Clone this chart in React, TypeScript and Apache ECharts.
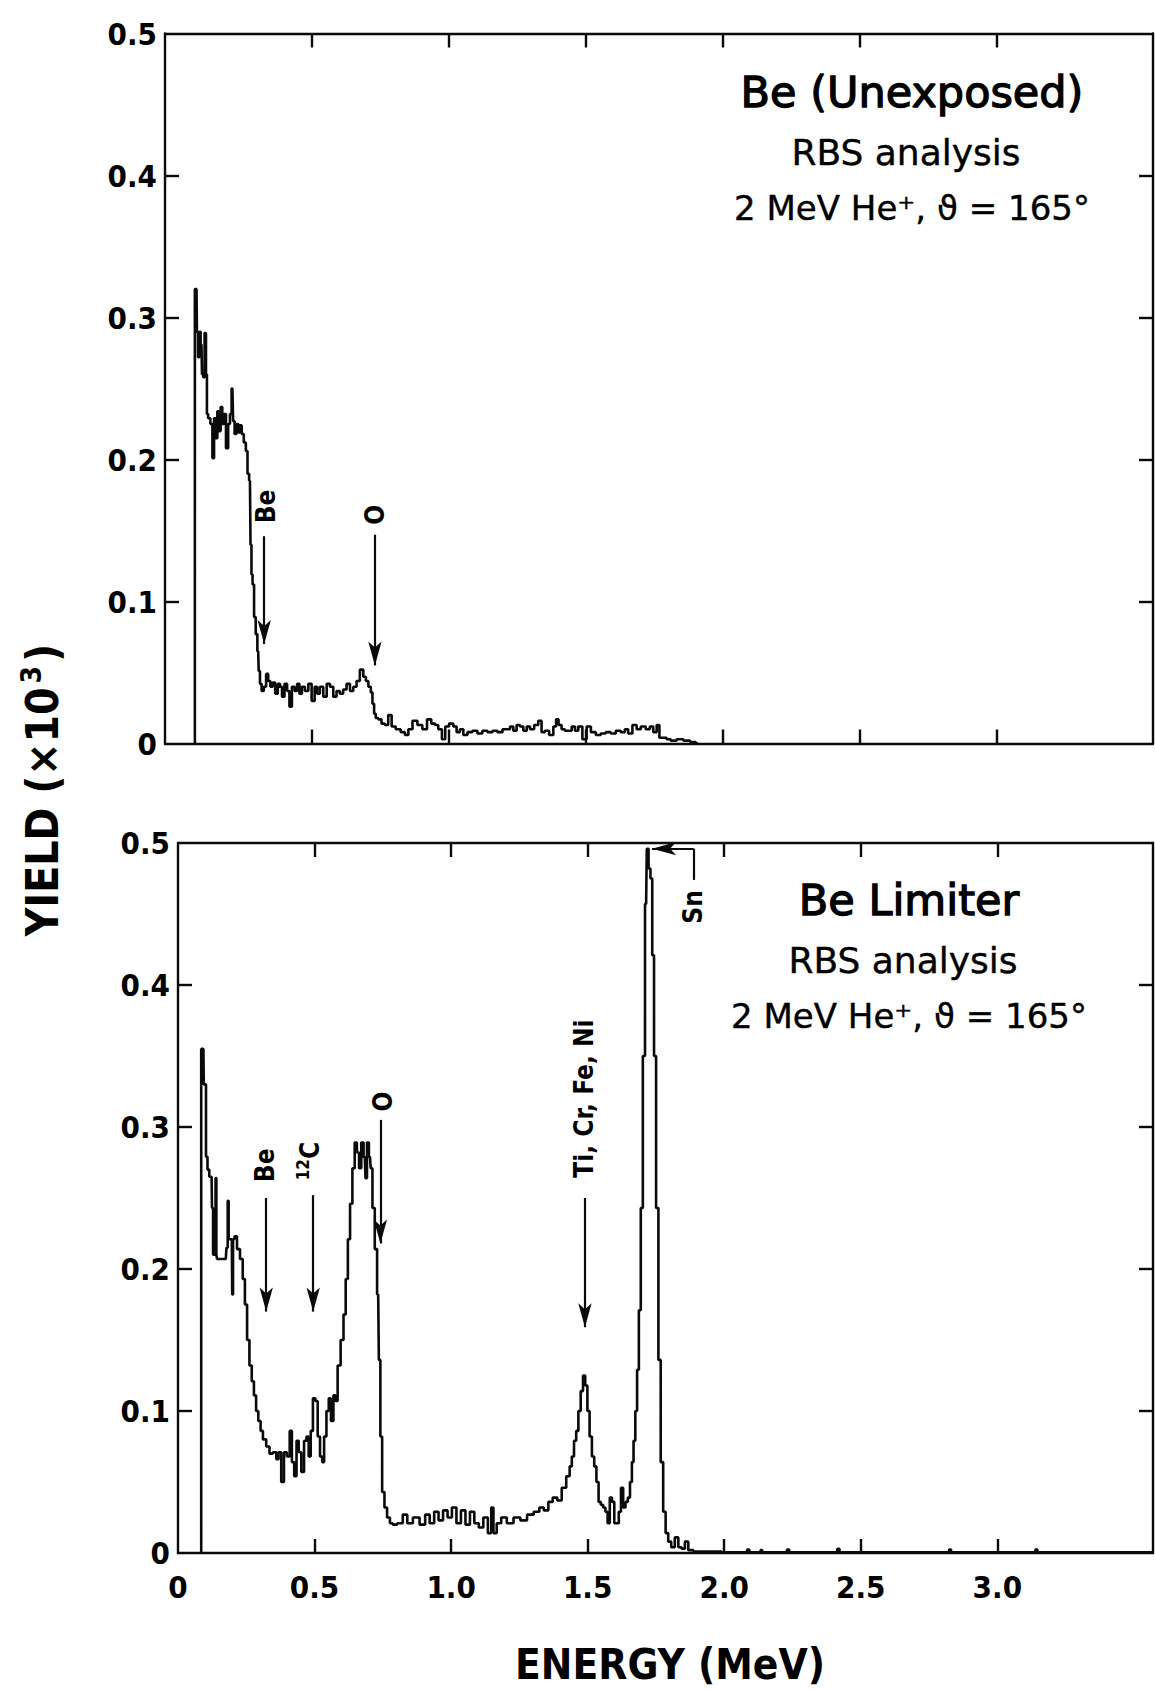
import { useEffect, useRef } from 'react';
import * as echarts from 'echarts';

// ---- Upper panel: unexposed Be, RBS spectrum (energy in MeV, yield ×10³) ----
const unexposedEnergy = [
  0.074, 0.074, 0.080, 0.083, 0.088, 0.092, 0.098, 0.102, 0.107, 0.112, 0.117, 0.119, 0.126, 0.135,
  0.141, 0.147, 0.153, 0.159, 0.165, 0.171, 0.177, 0.183, 0.192, 0.199, 0.205, 0.211, 0.216, 0.222,
  0.229, 0.236, 0.242, 0.248, 0.257, 0.263, 0.269, 0.275, 0.279, 0.282, 0.287, 0.293, 0.299, 0.305,
  0.309, 0.314, 0.321, 0.330, 0.338, 0.345, 0.354, 0.362, 0.372, 0.381, 0.388, 0.396, 0.406, 0.415,
  0.423, 0.433, 0.443, 0.451, 0.460, 0.469, 0.482, 0.494, 0.506, 0.516, 0.524, 0.536, 0.549, 0.561,
  0.573, 0.585, 0.597, 0.609, 0.621, 0.634, 0.646, 0.658, 0.670, 0.682, 0.695, 0.701, 0.713, 0.719,
  0.725, 0.731, 0.737, 0.749, 0.761, 0.773, 0.786, 0.798, 0.816, 0.834, 0.847, 0.859, 0.877, 0.895,
  0.913, 0.929, 0.944, 0.956, 0.968, 0.983, 0.992, 1.011, 1.023, 1.035, 1.047, 1.060, 1.077, 1.096,
  1.114, 1.132, 1.151, 1.169, 1.187, 1.206, 1.218, 1.230, 1.242, 1.254, 1.266, 1.279, 1.291, 1.303,
  1.321, 1.333, 1.345, 1.357, 1.376, 1.388, 1.396, 1.406, 1.418, 1.430, 1.443, 1.455, 1.467, 1.479,
  1.497, 1.510, 1.528, 1.546, 1.564, 1.582, 1.601, 1.619, 1.637, 1.649, 1.661, 1.680, 1.692, 1.710,
  1.728, 1.740, 1.753, 1.765, 1.773, 1.789, 1.801, 1.820, 1.844, 1.869, 1.893, 1.910,
];
const unexposedYield = [
  0, 0.320, 0.320, 0.290, 0.272, 0.290, 0.281, 0.260, 0.258, 0.289, 0.260, 0.232, 0.229, 0.225,
  0.201, 0.229, 0.215, 0.234, 0.220, 0.237, 0.225, 0.232, 0.208, 0.225, 0.232, 0.250, 0.227, 0.218,
  0.225, 0.219, 0.224, 0.218, 0.212, 0.206, 0.190, 0.185, 0.140, 0.119, 0.112, 0.089, 0.077, 0.065,
  0.051, 0.042, 0.037, 0.040, 0.049, 0.044, 0.040, 0.043, 0.035, 0.042, 0.040, 0.033, 0.042, 0.037,
  0.026, 0.040, 0.037, 0.042, 0.035, 0.040, 0.037, 0.042, 0.030, 0.040, 0.035, 0.040, 0.033, 0.042,
  0.040, 0.033, 0.037, 0.035, 0.038, 0.042, 0.037, 0.040, 0.044, 0.052, 0.047, 0.044, 0.040, 0.036,
  0.028, 0.021, 0.018, 0.017, 0.014, 0.013, 0.020, 0.012, 0.010, 0.008, 0.006, 0.010, 0.016, 0.013,
  0.010, 0.017, 0.014, 0.013, 0.010, 0.003, 0.012, 0.014, 0.012, 0.008, 0.010, 0.006, 0.008, 0.009,
  0.007, 0.009, 0.008, 0.009, 0.008, 0.010, 0.010, 0.012, 0.009, 0.013, 0.012, 0.009, 0.012, 0.010,
  0.013, 0.016, 0.008, 0.009, 0.006, 0.012, 0.017, 0.013, 0.010, 0.009, 0.009, 0.012, 0.009, 0.012,
  0.003, 0.012, 0.008, 0.006, 0.007, 0.008, 0.007, 0.009, 0.008, 0.010, 0.007, 0.013, 0.010, 0.012,
  0.010, 0.012, 0.008, 0.013, 0.004, 0.004, 0.003, 0.002, 0.003, 0.002, 0.001, 0,
];

// ---- Lower panel: Be limiter, RBS spectrum ----
const limiterEnergy = [
  0.085, 0.085, 0.093, 0.096, 0.100, 0.105, 0.111, 0.118, 0.123, 0.126, 0.131, 0.136, 0.139, 0.142,
  0.144, 0.159, 0.175, 0.180, 0.184, 0.187, 0.197, 0.200, 0.203, 0.211, 0.221, 0.233, 0.241, 0.249,
  0.257, 0.266, 0.274, 0.282, 0.290, 0.298, 0.307, 0.315, 0.331, 0.339, 0.356, 0.364, 0.372, 0.384,
  0.392, 0.405, 0.413, 0.421, 0.430, 0.438, 0.446, 0.457, 0.466, 0.475, 0.482, 0.490, 0.498, 0.508,
  0.515, 0.525, 0.531, 0.539, 0.548, 0.556, 0.564, 0.574, 0.580, 0.589, 0.602, 0.610, 0.618, 0.626,
  0.634, 0.643, 0.651, 0.659, 0.667, 0.675, 0.684, 0.689, 0.695, 0.703, 0.708, 0.716, 0.725, 0.733,
  0.738, 0.744, 0.751, 0.761, 0.770, 0.782, 0.790, 0.815, 0.831, 0.848, 0.872, 0.897, 0.913, 0.930,
  0.946, 0.962, 0.979, 0.995, 1.011, 1.028, 1.044, 1.061, 1.077, 1.093, 1.110, 1.126, 1.143, 1.151,
  1.159, 1.175, 1.192, 1.216, 1.241, 1.266, 1.290, 1.315, 1.331, 1.348, 1.364, 1.380, 1.397, 1.413,
  1.430, 1.438, 1.446, 1.454, 1.462, 1.470, 1.479, 1.487, 1.495, 1.503, 1.511, 1.520, 1.528, 1.536,
  1.544, 1.552, 1.561, 1.569, 1.577, 1.585, 1.593, 1.602, 1.610, 1.618, 1.626, 1.634, 1.643, 1.651,
  1.659, 1.665, 1.671, 1.678, 1.684, 1.691, 1.698, 1.706, 1.714, 1.719, 1.727, 1.733, 1.740, 1.746,
  1.755, 1.763, 1.772, 1.781, 1.790, 1.800, 1.812, 1.826, 1.838, 1.850, 1.862, 1.875, 1.900, 2.080,
  2.088, 2.096, 2.130, 2.136, 2.142, 2.226, 2.234, 2.242, 2.410, 2.418, 2.426, 2.820, 2.827, 2.834,
  3.136, 3.143, 3.150, 3.570,
];
const limiterYield = [
  0, 0.355, 0.355, 0.330, 0.330, 0.279, 0.270, 0.265, 0.265, 0.243, 0.210, 0.210, 0.264, 0.210,
  0.207, 0.207, 0.207, 0.215, 0.248, 0.221, 0.221, 0.182, 0.221, 0.223, 0.214, 0.207, 0.193, 0.175,
  0.150, 0.132, 0.121, 0.111, 0.100, 0.093, 0.086, 0.080, 0.075, 0.070, 0.071, 0.066, 0.071, 0.050,
  0.071, 0.068, 0.086, 0.064, 0.054, 0.079, 0.071, 0.057, 0.079, 0.082, 0.068, 0.086, 0.109, 0.107,
  0.082, 0.068, 0.064, 0.082, 0.100, 0.109, 0.093, 0.111, 0.107, 0.132, 0.150, 0.168, 0.193, 0.221,
  0.246, 0.271, 0.289, 0.282, 0.271, 0.289, 0.279, 0.264, 0.289, 0.279, 0.271, 0.243, 0.214, 0.182,
  0.136, 0.082, 0.043, 0.032, 0.025, 0.021, 0.020, 0.021, 0.027, 0.021, 0.025, 0.020, 0.027, 0.021,
  0.029, 0.023, 0.030, 0.025, 0.032, 0.021, 0.030, 0.020, 0.029, 0.021, 0.018, 0.025, 0.014, 0.032,
  0.014, 0.021, 0.025, 0.021, 0.025, 0.023, 0.027, 0.029, 0.032, 0.030, 0.036, 0.039, 0.037, 0.046,
  0.054, 0.061, 0.068, 0.079, 0.086, 0.100, 0.114, 0.125, 0.118, 0.100, 0.082, 0.068, 0.061, 0.050,
  0.036, 0.034, 0.032, 0.029, 0.021, 0.039, 0.036, 0.021, 0.021, 0.029, 0.046, 0.032, 0.036, 0.039,
  0.050, 0.064, 0.079, 0.100, 0.129, 0.171, 0.243, 0.350, 0.457, 0.496, 0.482, 0.475, 0.421, 0.350,
  0.243, 0.136, 0.064, 0.029, 0.014, 0.008, 0.004, 0.011, 0.004, 0.003, 0.008, 0.002, 0.001, 0.0005,
  0.0025, 0.0005, 0.0005, 0.002, 0.0005, 0.0005, 0.0025, 0.0005, 0.0005, 0.003, 0.0005, 0.0005, 0.0025, 0.0005,
  0.0005, 0.0025, 0.0005, 0.0005,
];

// ---- Axis ticks ----
const yieldTicks = [0.1, 0.2, 0.3, 0.4];
const energyTicks = [0.5, 1.0, 1.5, 2.0, 2.5, 3.0];
const energyLabels = [0, 0.5, 1.0, 1.5, 2.0, 2.5, 3.0];

// ---- Element markers (arrow from -> to at a given energy) ----
const unexposedMarkerText = ['Be', 'O'];
const unexposedMarkerEnergy = [0.327, 0.731];
const unexposedArrowFrom = [0.146, 0.147];
const unexposedArrowTo = [0.07, 0.055];
const unexposedLabelEnergy = [0.332, 0.733];
const unexposedLabelYield = [0.167, 0.161];

const limiterMarkerText = ['Be', '{s|12}{b|C}', 'O', 'Ti, Cr, Fe, Ni'];
const limiterMarkerEnergy = [0.323, 0.495, 0.741, 1.49];
const limiterArrowFrom = [0.25, 0.252, 0.305, 0.25];
const limiterArrowTo = [0.17, 0.17, 0.218, 0.159];
const limiterLabelEnergy = [0.318, 0.482, 0.749, 1.487];
const limiterLabelYield = [0.273, 0.276, 0.318, 0.32];

// Sn surface edge bracket: vertical stem then arrow pointing to lower energy
const snStemEnergy = 1.888;
const snArrowEnergy = 1.736;
const snStemYield = [0.474, 0.496];
const snLabelPos = [1.887, 0.455];

const LINE = '#0a0a0a';
const NUM_FONT = '"DejaVu Sans Condensed", "DejaVu Sans", sans-serif';
const TEXT_FONT = '"DejaVu Sans", sans-serif';

const zip = (xs: number[], ys: number[]) => xs.map((x, i) => [x, ys[i]]);

function arrowPairs(energy: number[], from: number[], to: number[]) {
  return energy.map((e, i) => [{ coord: [e, from[i]] }, { coord: [e, to[i]] }]);
}

function labelPoints(text: string[], energy: number[], yld: number[]) {
  return text.map((t, i) => ({ value: [energy[i], yld[i]], label: { formatter: t } }));
}

const markerLabelStyle = {
  show: true,
  position: 'inside',
  rotate: 90,
  color: '#000',
  textBorderWidth: 0,
  opacity: 1,
  fontFamily: NUM_FONT,
  fontWeight: 'bold',
  fontSize: 26,
  align: 'center',
  verticalAlign: 'middle',
  rich: {
    s: { fontFamily: NUM_FONT, fontWeight: 'bold', fontSize: 17, lineHeight: 30, verticalAlign: 'top', color: '#000' },
    b: { fontFamily: NUM_FONT, fontWeight: 'bold', fontSize: 26, lineHeight: 30, color: '#000' },
  },
};

function frameAxes(gridIndex: number, min: number, max: number, withLabels: boolean) {
  const axisLine = { show: true, onZero: false, lineStyle: { color: LINE, width: 2.4 } };
  const tick = { show: true, inside: true, length: 14, lineStyle: { color: LINE, width: 2.4 } };
  const x = [
    {
      type: 'value', gridIndex, min, max, position: 'bottom',
      axisLine, splitLine: { show: false },
      axisTick: { ...tick, customValues: energyTicks },
      axisLabel: withLabels
        ? {
            show: true, customValues: energyLabels, margin: 18, color: '#000',
            fontFamily: NUM_FONT, fontWeight: 'bold', fontSize: 31,
            formatter: (v: number) => (v === 0 ? '0' : v.toFixed(1)),
          }
        : { show: false },
    },
    {
      type: 'value', gridIndex, min, max, position: 'top',
      axisLine, splitLine: { show: false },
      axisTick: { ...tick, customValues: energyTicks },
      axisLabel: { show: false },
    },
  ];
  const y = [
    {
      type: 'value', gridIndex, min: 0, max: 0.5, interval: 0.1, position: 'left',
      axisLine, splitLine: { show: false },
      axisTick: { ...tick, customValues: yieldTicks },
      axisLabel: {
        show: true, margin: 8, color: '#000',
        fontFamily: NUM_FONT, fontWeight: 'bold', fontSize: 31,
        formatter: (v: number) => (v === 0 ? '0' : v.toFixed(1)),
      },
    },
    {
      type: 'value', gridIndex, min: 0, max: 0.5, interval: 0.1, position: 'right',
      axisLine, splitLine: { show: false },
      axisTick: { ...tick, customValues: yieldTicks },
      axisLabel: { show: false },
    },
  ];
  return { x, y };
}

function panelText(cx: number, cy: number, title: string) {
  const base = { fill: '#000', align: 'center', verticalAlign: 'middle' };
  return [
    {
      type: 'text', x: cx, y: cy, silent: true,
      style: { ...base, text: title, fontFamily: TEXT_FONT, fontSize: 43, stroke: '#000', lineWidth: 1.3 },
    },
    {
      type: 'text', x: cx - 6, y: cy + 60, silent: true,
      style: { ...base, text: 'RBS analysis', fontFamily: TEXT_FONT, fontSize: 36, stroke: '#000', lineWidth: 0.4 },
    },
    {
      type: 'text', x: cx, y: cy + 116, silent: true,
      style: { ...base, text: '2 MeV He⁺, ϑ = 165°', fontFamily: TEXT_FONT, fontSize: 34, stroke: '#000', lineWidth: 0.4 },
    },
  ];
}

export default function App() {
  const ref = useRef<HTMLDivElement>(null);

  useEffect(() => {
    if (!ref.current) return;
    const chart = echarts.init(ref.current, undefined, { renderer: 'svg' });

    const top = frameAxes(0, -0.035, 3.57, false);
    const bottom = frameAxes(1, 0, 3.57, true);

    const markLineBase = {
      silent: true,
      symbol: ['none', 'arrow'],
      symbolSize: [10, 24],
      label: { show: false },
      lineStyle: { color: LINE, width: 2.2, type: 'solid' },
      emphasis: { disabled: true },
      animation: false,
    };

    const labelSeries = {
      type: 'scatter',
      symbolSize: 0,
      silent: true,
      itemStyle: { color: '#000', opacity: 1 },
      label: markerLabelStyle,
      emphasis: { disabled: true },
    };

    chart.setOption({
      animation: false,
      backgroundColor: '#fff',
      grid: [
        { left: 165, top: 33.5, width: 988, height: 710 },
        { left: 178, top: 843, width: 975, height: 710 },
      ],
      xAxis: [...top.x, ...bottom.x],
      yAxis: [...top.y, ...bottom.y],
      series: [
        {
          name: 'Be (Unexposed)',
          type: 'line',
          xAxisIndex: 0,
          yAxisIndex: 0,
          data: zip(unexposedEnergy, unexposedYield),
          step: 'middle',
          showSymbol: false,
          silent: true,
          lineStyle: { color: LINE, width: 2.6 },
          markLine: {
            ...markLineBase,
            data: arrowPairs(unexposedMarkerEnergy, unexposedArrowFrom, unexposedArrowTo),
          },
        },
        {
          ...labelSeries,
          name: 'unexposed markers',
          xAxisIndex: 0,
          yAxisIndex: 0,
          data: labelPoints(unexposedMarkerText, unexposedLabelEnergy, unexposedLabelYield),
        },
        {
          name: 'Be Limiter',
          type: 'line',
          xAxisIndex: 2,
          yAxisIndex: 2,
          data: zip(limiterEnergy, limiterYield),
          step: 'middle',
          showSymbol: false,
          silent: true,
          lineStyle: { color: LINE, width: 2.6 },
          markLine: {
            ...markLineBase,
            data: [
              ...arrowPairs(limiterMarkerEnergy, limiterArrowFrom, limiterArrowTo),
              [
                { coord: [snStemEnergy, snStemYield[0]], symbol: 'none' },
                { coord: [snStemEnergy, snStemYield[1]], symbol: 'none' },
              ],
              [
                { coord: [snStemEnergy, snStemYield[1]], symbol: 'none' },
                { coord: [snArrowEnergy, snStemYield[1]] },
              ],
            ],
          },
        },
        {
          ...labelSeries,
          name: 'limiter markers',
          xAxisIndex: 2,
          yAxisIndex: 2,
          data: [
            ...labelPoints(limiterMarkerText, limiterLabelEnergy, limiterLabelYield),
            { value: snLabelPos, label: { formatter: 'Sn' } },
          ],
        },
      ],
      graphic: [
        ...panelText(912, 92, 'Be (Unexposed)'),
        ...panelText(909, 900, 'Be Limiter'),
        {
          type: 'text',
          x: 42,
          y: 790,
          rotation: Math.PI / 2,
          silent: true,
          style: {
            text: '{a|YIELD (×10}{s|3}{a|)}',
            align: 'center',
            verticalAlign: 'middle',
            fill: '#000',
            rich: {
              a: { fontFamily: NUM_FONT, fontWeight: 'bold', fontSize: 44, lineHeight: 50, fill: '#000' },
              s: { fontFamily: NUM_FONT, fontWeight: 'bold', fontSize: 28, lineHeight: 50, verticalAlign: 'top', padding: [0, 4, 0, 4], fill: '#000' },
            },
          },
        },
        {
          type: 'text',
          x: 670,
          y: 1664,
          silent: true,
          style: {
            text: 'ENERGY (MeV)',
            align: 'center',
            verticalAlign: 'middle',
            fill: '#000',
            fontFamily: NUM_FONT,
            fontWeight: 'bold',
            fontSize: 42,
            lineHeight: 44,
          },
        },
      ],
    });

    return () => chart.dispose();
  }, []);

  return (
    <div
      ref={ref}
      style={{ position: 'absolute', left: 0, top: 0, width: 1155, height: 1692, background: '#fff' }}
    />
  );
}
